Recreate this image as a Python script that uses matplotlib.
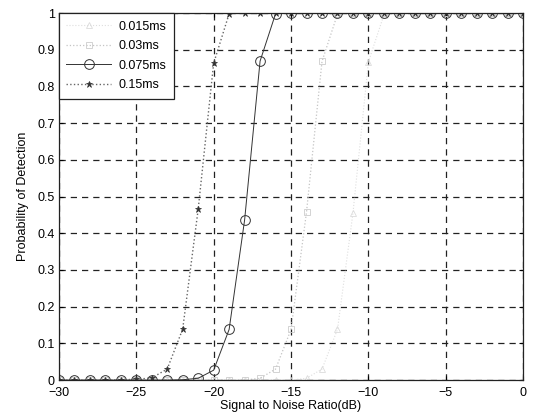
import matplotlib
matplotlib.use("Agg")
import matplotlib.pyplot as plt

plt.rcParams['font.family'] = ['Liberation Sans', 'DejaVu Sans']

snr_db = list(range(-30, 1))

labels = ['0.015ms', '0.03ms', '0.075ms', '0.15ms']

# detection probability per SNR step (-30 dB .. 0 dB)
pd_0015 = [0]*16 + [0.005, 0.03, 0.138, 0.455, 0.867, 0.995] + [1]*9
pd_003 = [0]*13 + [0.005, 0.03, 0.138, 0.458, 0.868, 0.997] + [1]*12
pd_0075 = [0]*8 + [0.001, 0.005, 0.027, 0.138, 0.436, 0.869, 0.998] + [1]*16
pd_015 = [0]*4 + [0.001, 0.002, 0.006, 0.03, 0.139, 0.465, 0.863, 0.998] + [1]*19

x_ticks = [-30, -25, -20, -15, -10, -5, 0]
y_ticks = [0, 0.1, 0.2, 0.3, 0.4, 0.5, 0.6, 0.7, 0.8, 0.9, 1]
y_ticklabels = ['0', '0.1', '0.2', '0.3', '0.4', '0.5', '0.6', '0.7', '0.8', '0.9', '1']

fig = plt.figure(figsize=(5.35, 4.2), dpi=100)
ax = fig.add_axes([0.110, 0.095, 0.868, 0.874])

ax.plot(snr_db, pd_0015, linestyle=':', color='#dedede', lw=0.8,
        marker='^', markersize=4, markerfacecolor='none',
        markeredgecolor='#dcdcdc', markeredgewidth=0.6, label=labels[0])
ax.plot(snr_db, pd_003, linestyle=':', color='#c4c4c4', lw=0.9,
        marker='s', markersize=5, markerfacecolor='none',
        markeredgecolor='#cccccc', markeredgewidth=0.6, label=labels[1])
ax.plot(snr_db, pd_0075, linestyle='-', color='#333333', lw=0.7,
        marker='o', markersize=7, markerfacecolor='none',
        markeredgecolor='#333333', markeredgewidth=0.7, label=labels[2])
ax.plot(snr_db, pd_015, linestyle=':', color='#666666', lw=1.0,
        marker='*', markersize=4.5, markerfacecolor='#333333',
        markeredgecolor='#333333', markeredgewidth=0.5, label=labels[3])

ax.set_xlim(-30, 0)
ax.set_ylim(0, 1)
ax.set_xticks(x_ticks)
ax.set_yticks(y_ticks)
ax.set_yticklabels(y_ticklabels)
ax.tick_params(direction='in', length=3, labelsize=9, width=0.8,
               top=True, right=True)
ax.tick_params(axis='x', pad=5)
ax.tick_params(axis='y', pad=3)

ax.grid(True, color='#222222', linestyle=(0, (5, 4)), linewidth=0.9)
for s in ax.spines.values():
    s.set_color('#222222')
    s.set_linewidth(0.9)

ax.set_xlabel('Signal to Noise Ratio(dB)', fontsize=9, labelpad=1)
ax.set_ylabel('Probability of Detection', fontsize=9, labelpad=6)

leg = ax.legend(loc='upper left', fontsize=9, frameon=True, fancybox=False,
                borderaxespad=0.0, handlelength=3.6, handletextpad=0.6,
                borderpad=0.6, labelspacing=0.6)
leg.get_frame().set_edgecolor('#222222')
leg.get_frame().set_linewidth(0.9)
leg.get_frame().set_alpha(1.0)

fig.savefig('out.png', dpi=100)
